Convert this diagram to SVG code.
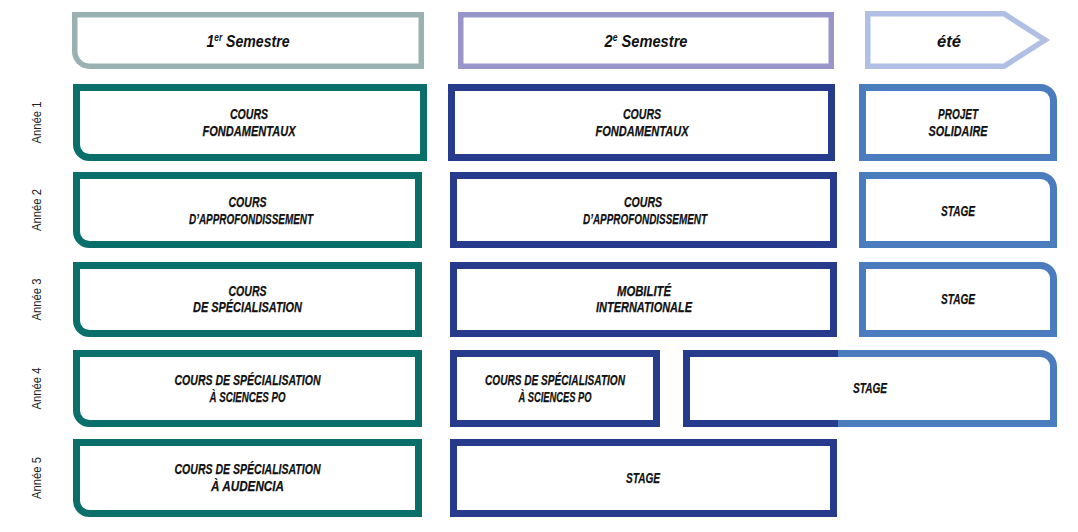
<svg xmlns="http://www.w3.org/2000/svg" width="1078" height="532" viewBox="0 0 1078 532">
<style>
.bg{fill:#ffffff}
.h1{fill:#fff;stroke:#99b1b1;stroke-width:5.5}
.h2{fill:#fff;stroke:#9896c8;stroke-width:5.5}
.h3{fill:#fff;stroke:#b0bfe3;stroke-width:5.5}
.c1{fill:#fff;stroke:#0a6e6a;stroke-width:7}
.c2{fill:#fff;stroke:#263b8b;stroke-width:7}
.c3{fill:#fff;stroke:#4b7dbe;stroke-width:7}
.ln{fill:none}
.t{font-family:"Liberation Sans Narrow","Liberation Sans",Arial,sans-serif;font-weight:bold;font-style:italic;font-size:15px;fill:#111;stroke:#111;stroke-width:0.25;text-anchor:middle}
.th{font-family:"Liberation Sans Narrow","Liberation Sans",Arial,sans-serif;font-weight:bold;font-style:italic;font-size:17px;fill:#111;text-anchor:middle}
.y{font-family:"Liberation Sans Narrow","Liberation Sans",Arial,sans-serif;font-size:13px;fill:#222;text-anchor:middle}
</style>
<rect class="bg" x="0" y="0" width="1078" height="532"/>

<g id="header-s1">
<path class="h1" d="M74.75,14.75 H421.25 V66.25 H89.75 A15,15 0 0 1 74.75,51.25 Z"/>
<text class="th" x="248" y="47" textLength="83" lengthAdjust="spacingAndGlyphs">1<tspan font-size="10" dy="-6">er</tspan><tspan dy="6"> Semestre</tspan></text>
</g>
<g id="header-s2">
<rect class="h2" x="460.75" y="14.75" width="370.5" height="51.5"/>
<text class="th" x="646" y="47" textLength="83" lengthAdjust="spacingAndGlyphs">2<tspan font-size="10" dy="-6">e</tspan><tspan dy="6"> Semestre</tspan></text>
</g>
<g id="header-ete">
<path class="h3" d="M867.75,13.75 H1004 L1045,40 L1004,66.25 H867.75 Z"/>
<text class="th" x="949" y="47" textLength="24" lengthAdjust="spacingAndGlyphs">été</text>
</g>

<g id="year-labels">
<text class="y" transform="translate(41,122.5) rotate(-90)" textLength="42" lengthAdjust="spacingAndGlyphs">Année 1</text>
<text class="y" transform="translate(41,210) rotate(-90)" textLength="42" lengthAdjust="spacingAndGlyphs">Année 2</text>
<text class="y" transform="translate(41,299.5) rotate(-90)" textLength="42" lengthAdjust="spacingAndGlyphs">Année 3</text>
<text class="y" transform="translate(41,388.5) rotate(-90)" textLength="42" lengthAdjust="spacingAndGlyphs">Année 4</text>
<text class="y" transform="translate(41,478) rotate(-90)" textLength="42" lengthAdjust="spacingAndGlyphs">Année 5</text>
</g>

<!-- Année 1 -->
<g id="a1-s1">
<path class="c1" d="M76.5,87.5 H423.5 V157.5 H89.5 A13,13 0 0 1 76.5,144.5 Z"/>
<text class="t" x="249" y="119" textLength="38" lengthAdjust="spacingAndGlyphs">COURS</text>
<text class="t" x="249" y="136" textLength="93" lengthAdjust="spacingAndGlyphs">FONDAMENTAUX</text>
</g>
<g id="a1-s2">
<rect class="c2" x="451.5" y="87.5" width="380" height="70"/>
<text class="t" x="642" y="119" textLength="38" lengthAdjust="spacingAndGlyphs">COURS</text>
<text class="t" x="642" y="136" textLength="93" lengthAdjust="spacingAndGlyphs">FONDAMENTAUX</text>
</g>
<g id="a1-ete">
<path class="c3" d="M862.5,87.5 H1040.5 A13,13 0 0 1 1053.5,100.5 V157.5 H862.5 Z"/>
<text class="t" x="958" y="119" textLength="40" lengthAdjust="spacingAndGlyphs">PROJET</text>
<text class="t" x="958" y="136" textLength="59" lengthAdjust="spacingAndGlyphs">SOLIDAIRE</text>
</g>

<!-- Année 2 -->
<g id="a2-s1">
<path class="c1" d="M76.5,175.5 H418.5 V244.5 H89.5 A13,13 0 0 1 76.5,231.5 Z"/>
<text class="t" x="247.5" y="207" textLength="38" lengthAdjust="spacingAndGlyphs">COURS</text>
<text class="t" x="251" y="224" textLength="124" lengthAdjust="spacingAndGlyphs">D’APPROFONDISSEMENT</text>
</g>
<g id="a2-s2">
<rect class="c2" x="453.5" y="175.5" width="380" height="69"/>
<text class="t" x="643" y="207" textLength="38" lengthAdjust="spacingAndGlyphs">COURS</text>
<text class="t" x="645" y="224" textLength="124" lengthAdjust="spacingAndGlyphs">D’APPROFONDISSEMENT</text>
</g>
<g id="a2-ete">
<path class="c3" d="M862.5,175.5 H1040.5 A13,13 0 0 1 1053.5,188.5 V244.5 H862.5 Z"/>
<text class="t" x="958" y="216" textLength="34" lengthAdjust="spacingAndGlyphs">STAGE</text>
</g>

<!-- Année 3 -->
<g id="a3-s1">
<path class="c1" d="M76.5,265.5 H418.5 V333.5 H89.5 A13,13 0 0 1 76.5,320.5 Z"/>
<text class="t" x="247.5" y="296" textLength="38" lengthAdjust="spacingAndGlyphs">COURS</text>
<text class="t" x="247.5" y="312" textLength="109" lengthAdjust="spacingAndGlyphs">DE SPÉCIALISATION</text>
</g>
<g id="a3-s2">
<rect class="c2" x="453.5" y="265.5" width="380" height="68"/>
<text class="t" x="644" y="296" textLength="54" lengthAdjust="spacingAndGlyphs">MOBILITÉ</text>
<text class="t" x="644" y="312" textLength="96" lengthAdjust="spacingAndGlyphs">INTERNATIONALE</text>
</g>
<g id="a3-ete">
<path class="c3" d="M862.5,265.5 H1040.5 A13,13 0 0 1 1053.5,278.5 V333.5 H862.5 Z"/>
<text class="t" x="958" y="304" textLength="34" lengthAdjust="spacingAndGlyphs">STAGE</text>
</g>

<!-- Année 4 -->
<g id="a4-s1">
<path class="c1" d="M76.5,353.5 H418.5 V423.5 H89.5 A13,13 0 0 1 76.5,410.5 Z"/>
<text class="t" x="247.5" y="385" textLength="146" lengthAdjust="spacingAndGlyphs">COURS DE SPÉCIALISATION</text>
<text class="t" x="247.5" y="402" textLength="76" lengthAdjust="spacingAndGlyphs">À SCIENCES PO</text>
</g>
<g id="a4-s2">
<rect class="c2" x="453.5" y="353.5" width="203" height="70"/>
<text class="t" x="555" y="385" textLength="140" lengthAdjust="spacingAndGlyphs">COURS DE SPÉCIALISATION</text>
<text class="t" x="555" y="402" textLength="73" lengthAdjust="spacingAndGlyphs">À SCIENCES PO</text>
</g>
<g id="a4-stage">
<rect x="686.5" y="353.5" width="367" height="70" fill="#fff"/>
<path class="c2 ln" d="M838,353.5 H686.5 V423.5 H838"/>
<path class="c3 ln" d="M838,353.5 H1040.5 A13,13 0 0 1 1053.5,366.5 V423.5 H838"/>
<text class="t" x="870" y="393" textLength="34" lengthAdjust="spacingAndGlyphs">STAGE</text>
</g>

<!-- Année 5 -->
<g id="a5-s1">
<path class="c1" d="M76.5,442.5 H418.5 V513.5 H89.5 A13,13 0 0 1 76.5,500.5 Z"/>
<text class="t" x="247.5" y="474" textLength="146" lengthAdjust="spacingAndGlyphs">COURS DE SPÉCIALISATION</text>
<text class="t" x="247.5" y="491" textLength="73" lengthAdjust="spacingAndGlyphs">À AUDENCIA</text>
</g>
<g id="a5-s2">
<rect class="c2" x="453.5" y="442.5" width="380" height="71"/>
<text class="t" x="643" y="483" textLength="34" lengthAdjust="spacingAndGlyphs">STAGE</text>
</g>
</svg>
